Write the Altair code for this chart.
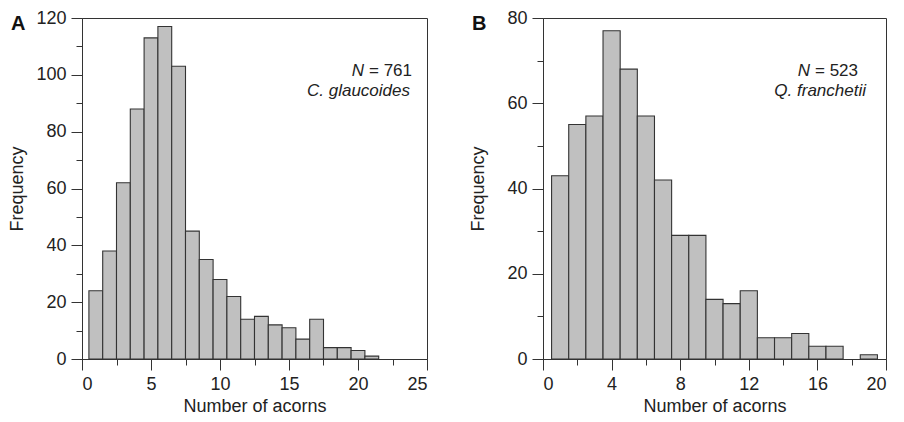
import json
import altair as alt
import pandas as pd

# ---- data ----
acorns_a = list(range(1, 22))
freq_a = [24, 38, 62, 88, 113, 117, 103, 45, 35, 28, 22, 14, 15, 12, 11, 7, 14, 4, 4, 3, 1]
acorns_b = list(range(1, 20))
freq_b = [43, 55, 57, 77, 68, 57, 42, 29, 29, 14, 13, 16, 5, 5, 6, 3, 3, 0, 1]

x_major_a = [0, 5, 10, 15, 20, 25]
x_minor_a = [2.5, 7.5, 12.5, 17.5, 22.5]
y_major_a = [0, 20, 40, 60, 80, 100, 120]
y_minor_a = [10, 30, 50, 70, 90, 110]
x_major_b = [0, 4, 8, 12, 16, 20]
x_minor_b = [2, 6, 10, 14, 18]
y_major_b = [0, 20, 40, 60, 80]
y_minor_b = [10, 30, 50, 70]

letters = ["A", "B"]
n_label = "N"
n_values = ["= 761", "= 523"]
species = ["C. glaucoides", "Q. franchetii"]
x_title = "Number of acorns"
y_title = "Frequency"

FONT = "Liberation Sans"
W_A, W_B, H = 345, 343, 341
DARK = "#333333"


def axis(major, minor, orient, title_x, title_y, angle, baseline):
    test = f"indexof({json.dumps(major)}, datum.value) >= 0"
    return alt.Axis(
        values=sorted(major + minor),
        orient=orient,
        labelExpr=f"{test} ? datum.label : ''",
        tickSize={"condition": {"test": test, "value": 11}, "value": 6},
        labelPadding=5,
        grid=False,
        titleX=title_x,
        titleY=title_y,
        titleAngle=angle,
        titleBaseline=baseline,
        titleAlign="center",
    )


def panel(n, f, width, xmaj, xmin, ymaj, ymin, letter, nval, sp, nval_x, n_x, sp_x):
    df = pd.DataFrame({"n": n, "f": f})
    bars = (
        alt.Chart(df)
        .transform_filter("datum.f > 0")
        .transform_calculate(lo="datum.n - 0.5", hi="datum.n + 0.5", base="0")
        .mark_rect(fill="#c0c0c0", stroke=DARK, strokeWidth=1.1, opacity=1)
        .encode(
            x=alt.X(
                "lo:Q",
                title=x_title,
                scale=alt.Scale(domain=[xmaj[0], xmaj[-1]], nice=False, zero=False, padding=0),
                axis=axis(xmaj, xmin, "bottom", width / 2, 52, 0, "alphabetic"),
            ),
            x2="hi:Q",
            y=alt.Y(
                "f:Q",
                title=y_title,
                scale=alt.Scale(domain=[ymaj[0], ymaj[-1]], nice=False, padding=0),
                axis=axis(ymaj, ymin, "left", -56, H / 2, 270, "bottom"),
            ),
            y2="base:Q",
        )
    )
    tdf = pd.DataFrame({"letter": [letter], "nl": [n_label], "nv": [nval], "sp": [sp]})
    tbase = alt.Chart(tdf)
    let = tbase.mark_text(
        align="left", baseline="alphabetic", font=FONT, fontSize=20, fontWeight="bold", color="#111"
    ).encode(text="letter:N", x=alt.value(-71), y=alt.value(12))
    nl = tbase.mark_text(
        align="right", baseline="alphabetic", font=FONT, fontSize=17, fontStyle="italic", color="#222"
    ).encode(text="nl:N", x=alt.value(n_x), y=alt.value(58))
    nv = tbase.mark_text(
        align="right", baseline="alphabetic", font=FONT, fontSize=17, color="#222"
    ).encode(text="nv:N", x=alt.value(nval_x), y=alt.value(58))
    spt = tbase.mark_text(
        align="right", baseline="alphabetic", font=FONT, fontSize=17, fontStyle="italic", color="#222"
    ).encode(text="sp:N", x=alt.value(sp_x), y=alt.value(78))
    return alt.layer(bars, let, nl, nv, spt).properties(width=width, height=H)


pa = panel(acorns_a, freq_a, W_A, x_major_a, x_minor_a, y_major_a, y_minor_a,
           letters[0], n_values[0], species[0], 330, 282, 328)
pb = panel(acorns_b, freq_b, W_B, x_major_b, x_minor_b, y_major_b, y_minor_b,
           letters[1], n_values[1], species[1], 315, 267, 323)

chart = (
    alt.hconcat(pa, pb, spacing=116, bounds="flush")
    .properties(
        autosize=alt.AutoSizeParams(type="none"),
        padding={"left": 74, "top": 10, "right": 814, "bottom": 396},
        background="white",
    )
    .configure_view(stroke=DARK, strokeWidth=1)
    .configure_axis(
        domainColor=DARK,
        tickColor=DARK,
        domainWidth=1,
        tickWidth=1,
        labelFont=FONT,
        labelFontSize=18,
        labelColor="#222",
        titleFont=FONT,
        titleFontSize=18,
        titleFontWeight="normal",
        titleColor="#222",
    )
)

chart.save("out.html", embed_options={"renderer": "svg", "actions": False})
